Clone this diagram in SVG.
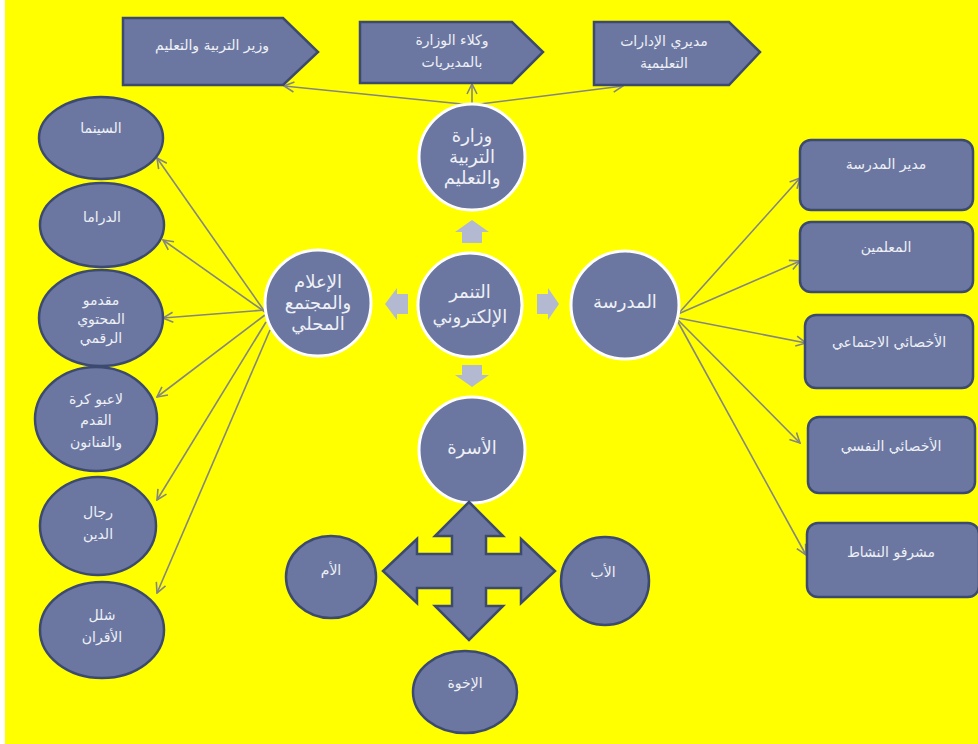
<svg xmlns="http://www.w3.org/2000/svg" width="978" height="744" viewBox="0 0 978 744">
<style>
.n{fill:#6b77a1;stroke:#3d4a70;stroke-width:2.5}
.c{fill:#6b77a1;stroke:#ffffff;stroke-width:3}
.g{fill:#b3b9d1}
.t{fill:#eef0f6;font-family:"DejaVu Sans","Noto Sans",sans-serif;font-size:14px;text-anchor:middle}
.tb{fill:#eef0f6;font-family:"DejaVu Sans","Noto Sans",sans-serif;font-size:18px;text-anchor:middle}
.l{stroke:#84867f;stroke-width:1.6;fill:none;marker-end:url(#ah)}
</style>
<defs>
<marker id="ah" viewBox="0 0 12 12" refX="11" refY="6" markerWidth="12" markerHeight="12" markerUnits="userSpaceOnUse" orient="auto">
<path d="M1,1 L11,6 L1,11" fill="none" stroke="#84867f" stroke-width="1.6"/>
</marker>
</defs>
<rect x="0" y="0" width="978" height="744" fill="#ffff00"/>
<rect x="0" y="0" width="5" height="744" fill="#ffffff"/>

<g id="connectors">
<line class="l" x1="472" y1="105" x2="284" y2="86"/>
<line class="l" x1="472" y1="105" x2="472" y2="84"/>
<line class="l" x1="472" y1="105" x2="623" y2="86"/>
<line class="l" x1="678" y1="314" x2="800" y2="178"/>
<line class="l" x1="678" y1="314" x2="800" y2="261"/>
<line class="l" x1="678" y1="318" x2="806" y2="343"/>
<line class="l" x1="678" y1="320" x2="800" y2="443"/>
<line class="l" x1="678" y1="322" x2="806" y2="555"/>
<line class="l" x1="265" y1="312" x2="157" y2="158"/>
<line class="l" x1="265" y1="312" x2="163" y2="240"/>
<line class="l" x1="265" y1="310" x2="163" y2="318"/>
<line class="l" x1="265" y1="315" x2="157" y2="397"/>
<line class="l" x1="266" y1="322" x2="157" y2="500"/>
<line class="l" x1="270" y1="330" x2="157" y2="593"/>
</g>

<g id="p1"><polygon class="n" points="123,18 283,18 318,52 283,85 123,85"/><text class="t" x="212" y="50">وزير التربية والتعليم</text></g>
<g id="p2"><polygon class="n" points="360,22 512,22 543,52 512,83 360,83"/><text class="t" x="452" y="45">وكلاء الوزارة</text><text class="t" x="452" y="67">بالمديريات</text></g>
<g id="p3"><polygon class="n" points="594,22 729,22 760,52 729,85 594,85"/><text class="t" x="664" y="46">مديري الإدارات</text><text class="t" x="664" y="68">التعليمية</text></g>

<g id="ministry"><circle class="c" cx="472" cy="157" r="53"/><text class="tb" x="472" y="142">وزارة</text><text class="tb" x="472" y="163">التربية</text><text class="tb" x="472" y="184">والتعليم</text></g>
<g id="bullying"><circle class="c" cx="470" cy="305" r="52"/><text class="tb" x="470" y="298">التنمر</text><text class="tb" x="470" y="323">الإلكتروني</text></g>
<g id="media"><circle class="c" cx="318" cy="303" r="53"/><text class="tb" x="318" y="288">الإعلام</text><text class="tb" x="318" y="309">والمجتمع</text><text class="tb" x="318" y="330">المحلي</text></g>
<g id="school"><circle class="c" cx="625" cy="305" r="54"/><text class="tb" x="625" y="308">المدرسة</text></g>
<g id="family"><circle class="c" cx="472" cy="450" r="53"/><text class="tb" x="472" y="454">الأسرة</text></g>

<g id="arrows-small">
<polygon class="g" points="472,220 489,232 482,232 482,243 462,243 462,232 455,232"/>
<polygon class="g" points="462,365 482,365 482,375 489,375 472,387 455,375 462,375"/>
<polygon class="g" points="385,304 397,288 397,294 408,294 408,314 397,314 397,320"/>
<polygon class="g" points="537,294 548,294 548,288 559,304 548,320 548,314 537,314"/>
</g>

<g id="cinema"><ellipse class="n" cx="101" cy="138" rx="62" ry="41"/><text class="t" x="101" y="133">السينما</text></g>
<g id="drama"><ellipse class="n" cx="102" cy="225" rx="62" ry="42"/><text class="t" x="102" y="222">الدراما</text></g>
<g id="creators"><ellipse class="n" cx="101" cy="318" rx="62" ry="48"/><text class="t" x="101" y="305">مقدمو</text><text class="t" x="101" y="324">المحتوي</text><text class="t" x="101" y="343">الرقمي</text></g>
<g id="players"><ellipse class="n" cx="96" cy="419" rx="61" ry="52"/><text class="t" x="96" y="404">لاعبو كرة</text><text class="t" x="96" y="425">القدم</text><text class="t" x="96" y="447">والفنانون</text></g>
<g id="clergy"><ellipse class="n" cx="98" cy="526" rx="58" ry="49"/><text class="t" x="98" y="517">رجال</text><text class="t" x="98" y="539">الدين</text></g>
<g id="peers"><ellipse class="n" cx="102" cy="630" rx="62" ry="48"/><text class="t" x="102" y="620">شلل</text><text class="t" x="102" y="642">الأقران</text></g>

<g id="principal"><rect class="n" x="800" y="140" width="173" height="70" rx="11"/><text class="t" x="886" y="169">مدير المدرسة</text></g>
<g id="teachers"><rect class="n" x="800" y="222" width="173" height="70" rx="11"/><text class="t" x="886" y="252">المعلمين</text></g>
<g id="social"><rect class="n" x="805" y="315" width="168" height="73" rx="11"/><text class="t" x="889" y="347">الأخصائي الاجتماعي</text></g>
<g id="psych"><rect class="n" x="808" y="417" width="167" height="76" rx="11"/><text class="t" x="891" y="451">الأخصائي النفسي</text></g>
<g id="activity"><rect class="n" x="807" y="523" width="172" height="74" rx="11"/><text class="t" x="891" y="557">مشرفو النشاط</text></g>

<g id="cross"><polygon class="n" points="469,502 503,536 486,536 486,554 521,554 521,539 555,571 521,603 521,588 486,588 486,606 503,606 469,640 435,606 452,606 452,588 417,588 417,603 383,571 417,539 417,554 452,554 452,536 435,536"/></g>
<g id="mother"><ellipse class="n" cx="331" cy="577" rx="45" ry="41"/><text class="t" x="331" y="575">الأم</text></g>
<g id="father"><circle class="n" cx="605" cy="581" r="44"/><text class="t" x="603" y="577">الأب</text></g>
<g id="siblings"><ellipse class="n" cx="465" cy="692" rx="52" ry="41"/><text class="t" x="465" y="688">الإخوة</text></g>
</svg>
